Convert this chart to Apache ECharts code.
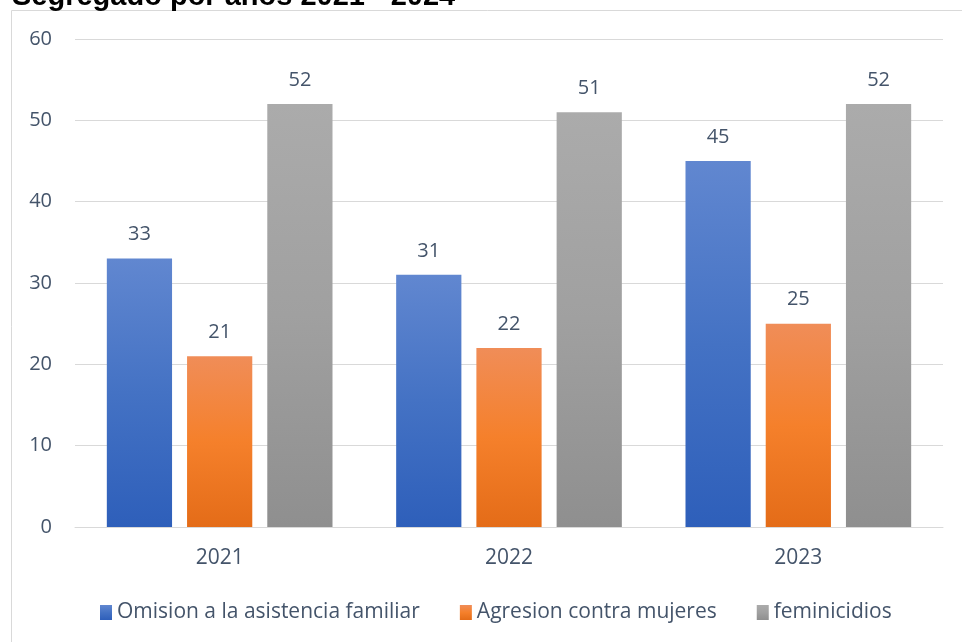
<!DOCTYPE html>
<html>
<head>
<meta charset="utf-8">
<script src="https://cdn.jsdelivr.net/npm/echarts@6/dist/echarts.min.js"></script>
<style>
  html, body { margin: 0; padding: 0; background: #fff; }
  #chart { width: 962px; height: 642px; }
</style>
</head>
<body>
<div id="chart"></div>
<script>
const years = ['2021', '2022', '2023']
const seriesNames = ['Omision a la asistencia familiar', 'Agresion contra mujeres', 'feminicidios']
const omision = [33, 31, 45]
const agresion = [21, 22, 25]
const feminicidios = [52, 51, 52]
const yTicks = [0, 10, 20, 30, 40, 50, 60]

function grad(top, mid, bottom) {
  return new echarts.graphic.LinearGradient(0, 0, 0, 1, [
    { offset: 0, color: top },
    { offset: 0.5, color: mid },
    { offset: 1, color: bottom }
  ])
}

const textColor = '#44546a'
const chart = echarts.init(document.getElementById('chart'))

const makeSeries = (name, data, color) => ({
  name: name,
  type: 'bar',
  data: data,
  barGap: '23%',
  barCategoryGap: '22%',
  itemStyle: { color: color },
  label: {
    show: true,
    position: 'top',
    distance: 14,
    color: textColor,
    fontSize: 20,
    fontFamily: 'Open Sans'
  }
})

chart.setOption({
  animation: false,
  title: {
    text: 'Segregado por años 2021 - 2024',
    left: 7,
    top: -23,
    textStyle: { color: '#000', fontSize: 29, fontWeight: 'bold', fontFamily: 'Liberation Sans' }
  },
  graphic: [{
    type: 'rect',
    shape: { x: 11.5, y: 10.5, width: 960, height: 640 },
    style: { fill: 'none', stroke: '#d9d9d9', lineWidth: 1 },
    silent: true
  }],
  legend: {
    bottom: 14,
    left: 95,
    itemWidth: 12,
    itemHeight: 15,
    itemGap: 40,
    icon: 'rect',
    textStyle: { color: textColor, fontSize: 21, fontFamily: 'Open Sans' },
    data: seriesNames
  },
  grid: { left: 75, right: 19, top: 39, bottom: 115 },
  xAxis: {
    type: 'category',
    data: years,
    axisLine: { lineStyle: { color: '#d9d9d9', width: 1 } },
    axisTick: { show: false },
    axisLabel: { color: textColor, fontSize: 21, margin: 21, fontFamily: 'Open Sans' }
  },
  yAxis: {
    type: 'value',
    min: yTicks[0],
    max: yTicks[yTicks.length - 1],
    interval: 10,
    axisLine: { show: false },
    axisTick: { show: false },
    splitLine: { lineStyle: { color: '#d9d9d9', width: 1 } },
    axisLabel: { color: textColor, fontSize: 20, margin: 23, fontFamily: 'Open Sans' }
  },
  series: [
    makeSeries(seriesNames[0], omision, grad('#6187d0', '#4472c4', '#2e5fba')),
    makeSeries(seriesNames[1], agresion, grad('#f08d58', '#f5802b', '#e46c18')),
    makeSeries(seriesNames[2], feminicidios, grad('#ababab', '#a0a0a0', '#8f8f8f'))
  ]
})
</script>
</body>
</html>
